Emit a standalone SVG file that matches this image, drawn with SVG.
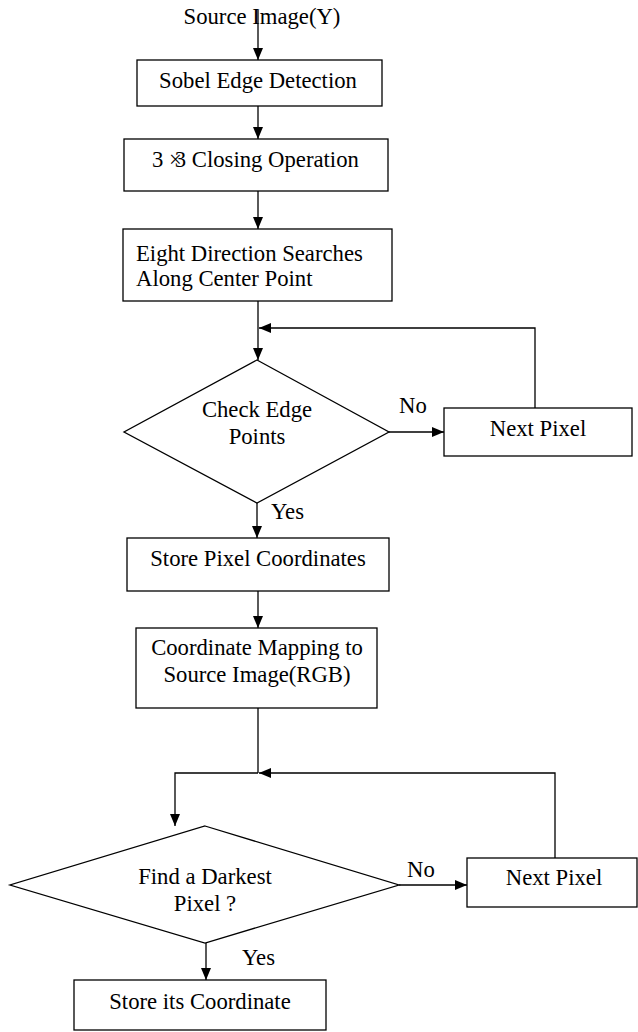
<svg xmlns="http://www.w3.org/2000/svg" width="638" height="1032" viewBox="0 0 638 1032">
  <style>
    .box { fill: #ffffff; stroke: #000000; stroke-width: 1.3; }
    .wire { fill: none; stroke: #000000; stroke-width: 1.3; }
    .lbl { font-family: "Liberation Serif", "Times New Roman", serif; font-size: 22.7px; fill: #000000; }
    .mid { text-anchor: middle; }
  </style>
  <defs>
    <marker id="arrow" markerUnits="userSpaceOnUse" markerWidth="12" markerHeight="10" refX="12" refY="5" orient="auto">
      <path d="M0,0 L12,5 L0,10 z" fill="#000000"/>
    </marker>
  </defs>

  <rect width="638" height="1032" fill="#ffffff"/>

  <g id="connectors">
    <line class="wire" x1="258" y1="10" x2="258" y2="60" marker-end="url(#arrow)"/>
    <line class="wire" x1="258" y1="106" x2="258" y2="139" marker-end="url(#arrow)"/>
    <line class="wire" x1="258" y1="191" x2="258" y2="229" marker-end="url(#arrow)"/>
    <line class="wire" x1="258" y1="301" x2="258" y2="360" marker-end="url(#arrow)"/>
    <polyline class="wire" points="535,408 535,328 259,328" marker-end="url(#arrow)"/>
    <line class="wire" x1="389" y1="432" x2="444" y2="432" marker-end="url(#arrow)"/>
    <line class="wire" x1="257" y1="503" x2="257" y2="538" marker-end="url(#arrow)"/>
    <line class="wire" x1="258" y1="591" x2="258" y2="628" marker-end="url(#arrow)"/>
    <line class="wire" x1="258" y1="708" x2="258" y2="773"/>
    <polyline class="wire" points="555,858 555,773 259,773" marker-end="url(#arrow)"/>
    <polyline class="wire" points="258,773 175,773 175,826" marker-end="url(#arrow)"/>
    <line class="wire" x1="399" y1="885" x2="467" y2="885" marker-end="url(#arrow)"/>
    <line class="wire" x1="206" y1="943" x2="206" y2="980" marker-end="url(#arrow)"/>
  </g>

  <g id="source">
    <text class="lbl mid" x="262" y="24">Source Image(Y)</text>
  </g>

  <g id="sobel">
    <rect class="box" x="137" y="60" width="245" height="46"/>
    <text class="lbl mid" x="258" y="88">Sobel Edge Detection</text>
  </g>

  <g id="closing">
    <rect class="box" x="124" y="139" width="264" height="52"/>
    <!-- the second "3" is pulled back so it sits over the multiplication sign -->
    <text class="lbl" x="152" y="167" dx="0 0 0 -7">3 ×3 Closing Operation</text>
  </g>

  <g id="search">
    <rect class="box" x="123" y="229" width="269" height="72"/>
    <text class="lbl" x="136" y="261">Eight Direction Searches<tspan x="136" y="286">Along Center Point</tspan></text>
  </g>

  <g id="check-edge">
    <polygon class="box" points="257,360 389,432 257,503 124,432"/>
    <text class="lbl mid" x="257" y="417">Check Edge<tspan x="257" y="444">Points</tspan></text>
    <text class="lbl" x="399" y="413">No</text>
    <text class="lbl" x="271" y="519">Yes</text>
  </g>

  <g id="next-pixel-1">
    <rect class="box" x="444" y="408" width="188" height="48"/>
    <text class="lbl mid" x="538" y="436">Next Pixel</text>
  </g>

  <g id="store-pixel">
    <rect class="box" x="127" y="538" width="262" height="53"/>
    <text class="lbl mid" x="258" y="566">Store Pixel Coordinates</text>
  </g>

  <g id="mapping">
    <rect class="box" x="136" y="628" width="241" height="80"/>
    <text class="lbl mid" x="257" y="655">Coordinate Mapping to<tspan x="257" y="682">Source Image(RGB)</tspan></text>
  </g>

  <g id="darkest">
    <polygon class="box" points="205,826 399,885 205,943 10,885"/>
    <text class="lbl mid" x="205" y="884">Find a Darkest<tspan x="205" y="911">Pixel ?</tspan></text>
    <text class="lbl" x="407" y="877">No</text>
    <text class="lbl" x="242" y="965">Yes</text>
  </g>

  <g id="next-pixel-2">
    <rect class="box" x="467" y="858" width="170" height="49"/>
    <text class="lbl mid" x="554" y="885">Next Pixel</text>
  </g>

  <g id="store-coordinate">
    <rect class="box" x="74" y="980" width="252" height="50"/>
    <text class="lbl mid" x="200" y="1009">Store its Coordinate</text>
  </g>
</svg>
